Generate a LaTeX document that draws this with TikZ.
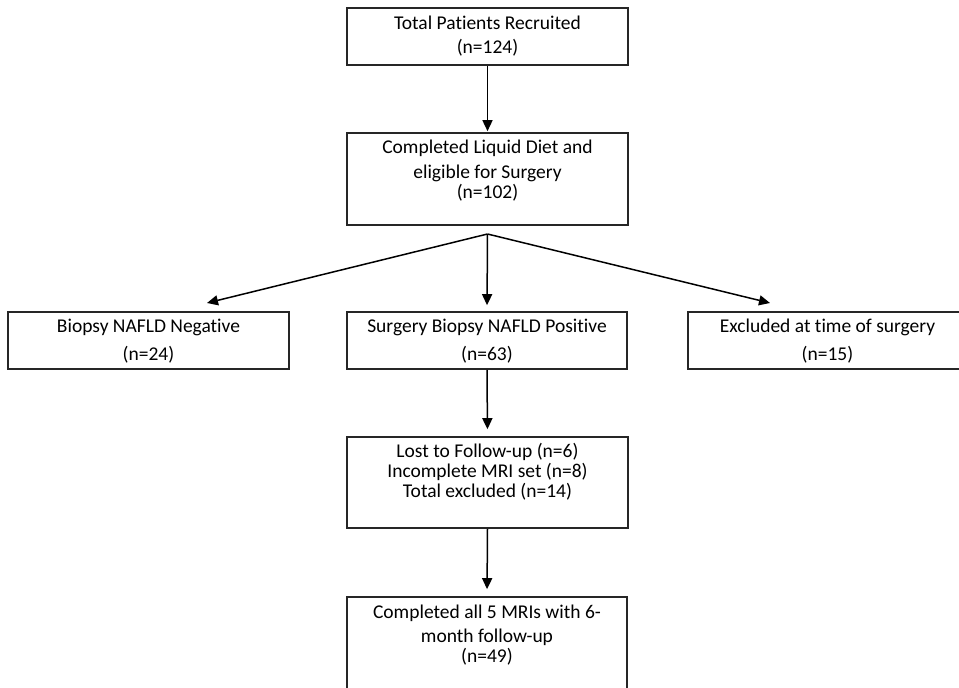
\documentclass[tikz,border=0pt]{standalone}
\usepackage{fontspec}
\setmainfont{Carlito}[Ligatures=NoCommon]
\usetikzlibrary{arrows.meta}
\tikzset{
  box/.style={draw=black!85, line width=1.6pt, rectangle, inner sep=0pt},
  txt/.style={anchor=base, inner sep=0pt, font=\fontsize{19.5}{22}\selectfont, text=black},
  arr/.style={draw=black, line width=1.5pt, -{Triangle[length=11pt,width=10pt]}}
}
\begin{document}
\begin{tikzpicture}[x=1pt,y=-1pt]
\useasboundingbox (0,0) rectangle (959,688);
% boxes
\node[box, minimum width=281pt, minimum height=57pt] (b1) at (487.5,36.5) {};
\node[box, minimum width=281pt, minimum height=92pt] (b2) at (487.5,179) {};
\node[box, minimum width=281pt, minimum height=57pt] (bl) at (148.5,340.5) {};
\node[box, minimum width=280pt, minimum height=57pt] (bm) at (487,340.5) {};
\node[box, minimum width=279pt, minimum height=57pt] (br) at (827.5,340.5) {};
\node[box, minimum width=281pt, minimum height=91pt] (b4) at (487.5,482.5) {};
\node[box, minimum width=280pt, minimum height=103pt] (b5) at (487,648.5) {};
% texts
\node[txt] (t1a) at (487.5,29) {Total Patients Recruited};
\node[txt] (t1b) at (487.5,53) {(n=124)};
\node[txt] (t2a) at (487.5,153) {Completed Liquid Diet and};
\node[txt] (t2b) at (487.5,178) {eligible for Surgery};
\node[txt] (t2c) at (487.5,198) {(n=102)};
\node[txt] (tla) at (148.5,332) {Biopsy NAFLD Negative};
\node[txt] (tlb) at (148.5,360) {(n=24)};
\node[txt] (tma) at (487,332) {Surgery Biopsy NAFLD Positive};
\node[txt] (tmb) at (487,360) {(n=63)};
\node[txt] (tra) at (827.5,332) {Excluded at time of surgery};
\node[txt] (trb) at (827.5,360) {(n=15)};
\node[txt] (t4a) at (487.5,457) {Lost to Follow-up (n=6)};
\node[txt] (t4b) at (487.5,477) {Incomplete MRI set (n=8)};
\node[txt] (t4c) at (487.5,497) {Total excluded (n=14)};
\node[txt] (t5a) at (487,618) {Completed all 5 MRIs with 6-};
\node[txt] (t5b) at (487,642) {month follow-up};
\node[txt] (t5c) at (487,662) {(n=49)};
% connectors
\coordinate (split) at (487.5,234);
\coordinate (lend) at (207,303);
\coordinate (rend) at (770,303);
\draw[arr, shorten >=1pt] (b1.south) -- (b2.north);
\draw[arr] (split) -- (lend);
\draw[arr] (split) -- (rend);
\draw[arr, shorten >=6pt] (split) -- (bm.north);
\draw[arr, shorten >=7pt] (bm.south) -- (b4.north);
\draw[arr, shorten >=7pt] (b4.south) -- (b5.north);
\end{tikzpicture}
\end{document}
